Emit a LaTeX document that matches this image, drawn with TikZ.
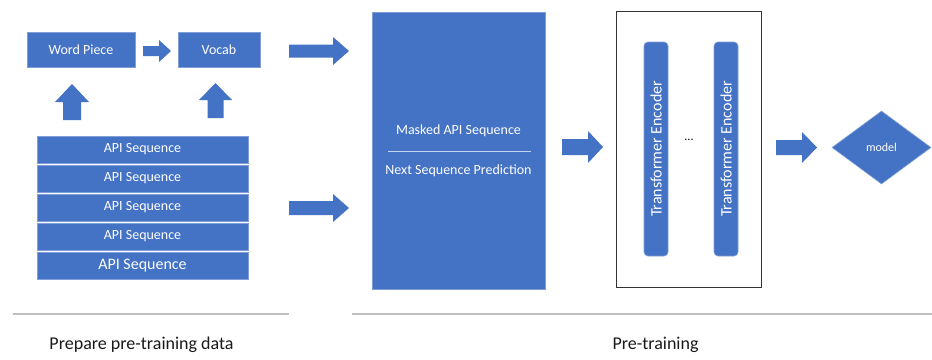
\documentclass[tikz,border=0pt]{standalone}
\usepackage{fontspec}
\setmainfont{Carlito}
\usetikzlibrary{shapes.geometric}
\definecolor{bfill}{HTML}{4472C4}
\definecolor{bedge}{HTML}{7F9FD6}
\definecolor{sepline}{HTML}{BFBFBF}
\definecolor{txtdark}{HTML}{1A1A1A}
% right-pointing block arrow: x0, xtip, xheadbase, ycenter, shaft half, head half
\newcommand{\rblock}[6]{\fill[bfill] (#1,#4-#5) -- (#3,#4-#5) -- (#3,#4-#6) -- (#2,#4) -- (#3,#4+#6) -- (#3,#4+#5) -- (#1,#4+#5) -- cycle;}
% up-pointing block arrow: xcenter, ybottom, ytip, yheadbase, shaft half, head half
\newcommand{\ublock}[6]{\fill[bfill] (#1-#5,#2) -- (#1-#5,#4) -- (#1-#6,#4) -- (#1,#3) -- (#1+#6,#4) -- (#1+#5,#4) -- (#1+#5,#2) -- cycle;}
\begin{document}
\begin{tikzpicture}[x=1pt,y=-1pt,
  bluebox/.style={fill=bfill,draw=bedge,line width=0.6pt,text=white,inner sep=0pt},
  fs/.style={font=\fontsize{#1}{#1}\selectfont},
  label/.style={text=txtdark,inner sep=0pt}]
\useasboundingbox (0,0) rectangle (932,359);
\fill[white] (0,0) rectangle (932,359);

% left part
\node[bluebox,minimum width=108pt,minimum height=35pt,fs=14] (wp) at (81,49.5) {Word Piece};
\node[bluebox,minimum width=82pt,minimum height=35pt,fs=14] (vocab) at (219,49.5) {Vocab};
\node[bluebox,minimum width=211pt,minimum height=27pt,fs=14] (api1) at (142.5,149.5) {API Sequence};
\node[bluebox,minimum width=211pt,minimum height=27pt,fs=14] (api2) at (142.5,178.5) {API Sequence};
\node[bluebox,minimum width=211pt,minimum height=27pt,fs=14] (api3) at (142.5,207.5) {API Sequence};
\node[bluebox,minimum width=211pt,minimum height=27pt,fs=14] (api4) at (142.5,236.5) {API Sequence};
\node[bluebox,minimum width=211pt,minimum height=27pt,fs=16] (api5) at (142.5,265.5) {API Sequence};

\rblock{143}{171}{159}{51}{5}{11}
\ublock{72}{120}{84}{102}{9}{17}
\ublock{215.5}{118}{83}{100}{8}{16.5}
\rblock{289}{349}{333}{51}{6.5}{14}
\rblock{289}{349}{333}{208}{7}{14}

% big task box
\node[bluebox,minimum width=173pt,minimum height=277pt] (task) at (458.5,150.5) {};
\node[text=white,inner sep=0pt,fs=14] (mlm) at (458.5,131) {Masked API Sequence};
\node[text=white,inner sep=0pt,fs=14] (nsp) at (458.5,171) {Next Sequence Prediction};
\draw[bedge!45!white,line width=0.8pt] (388,151) -- (531,151);

\rblock{562}{603}{588}{147}{8}{16}

% encoder frame
\node[draw=black!80,line width=0.8pt,minimum width=145pt,minimum height=276pt,inner sep=0pt] (frame) at (688.5,149) {};
\node[bluebox,rounded corners=4pt,rotate=90,minimum width=214pt,minimum height=24pt,fs=16] (enc1) at (656,149) {Transformer Encoder};
\node[bluebox,rounded corners=4pt,rotate=90,minimum width=214pt,minimum height=24pt,fs=16] (enc2) at (726,149) {Transformer Encoder};
\node[inner sep=0pt,text=black,fs=12] (dots) at (689,139.5) {...};

\rblock{776}{817}{802}{147.5}{7.5}{15.5}

\node[bluebox,diamond,minimum width=99pt,minimum height=73pt,fs=12] (model) at (881.5,147.5) {model};

% bottom
\draw[sepline,line width=1.5pt] (13,314) -- (289,314);
\draw[sepline,line width=1.5pt] (352,314) -- (932,314);
\node[label,fs=18] (lab1) at (141.5,345) {Prepare pre-training data};
\node[label,fs=18] (lab2) at (655.5,345) {Pre-training};
\end{tikzpicture}
\end{document}
